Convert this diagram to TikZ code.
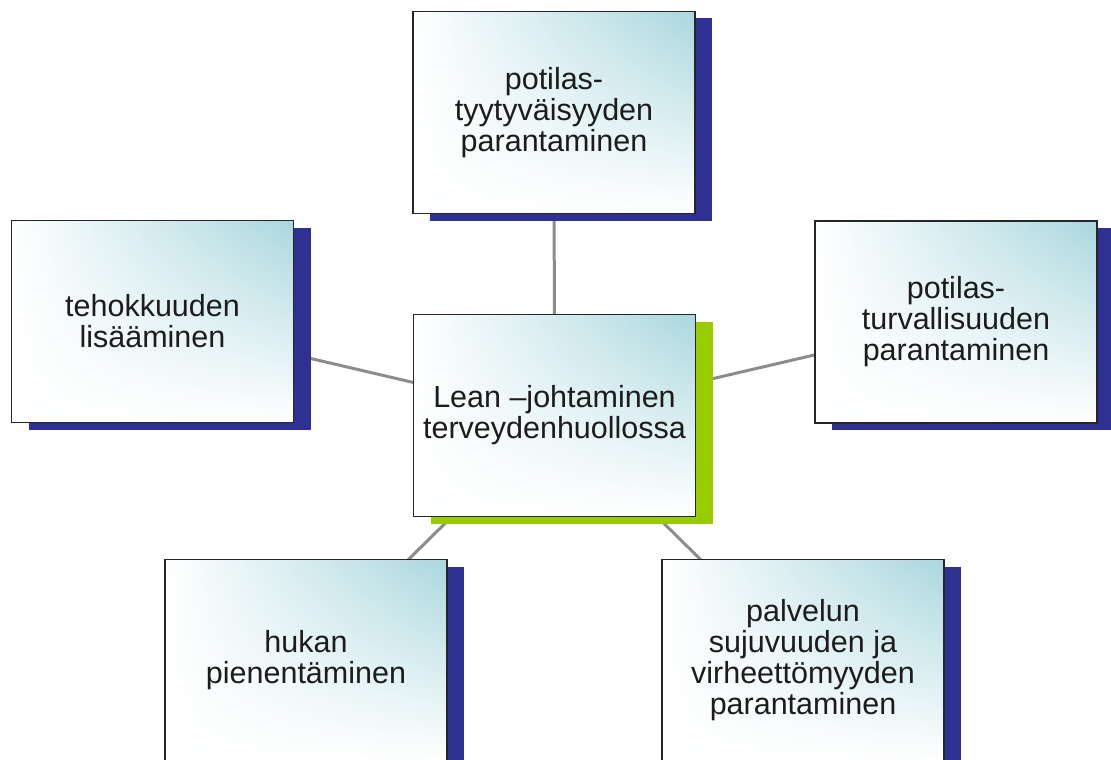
\documentclass[tikz,border=0pt]{standalone}
\usepackage{fontspec}
\setmainfont{Liberation Sans}
\usetikzlibrary{shadows,shadings}
\pgfdeclarelayer{background}
\pgfsetlayers{background,main}
\definecolor{navyshadow}{HTML}{2E3192}
\definecolor{limeshadow}{HTML}{99CC00}
\definecolor{iceteal}{HTML}{A9D7DE}
\definecolor{linkgray}{HTML}{8C8C8C}
\definecolor{inkblack}{HTML}{1C1C1C}
\tikzset{
  topicbox/.style={
    rectangle, draw=black!85, line width=1.6pt,
    minimum width=282pt, minimum height=202pt, inner sep=0pt,
    align=center, text=inkblack,
    font=\fontsize{30.5}{31}\selectfont,
    shade, upper left=white, upper right=iceteal,
    lower left=white, lower right=white,
    general shadow={fill=#1, shadow xshift=17pt, shadow yshift=-7pt}
  },
  topicbox/.default=navyshadow,
  link/.style={draw=linkgray, line width=3pt}
}
\begin{document}
\begin{tikzpicture}[x=1pt, y=-1pt]
  \useasboundingbox (0,0) rectangle (1111,760);
  \clip (0,0) rectangle (1111,760);
  % central theme and its five goals
  \node[topicbox=limeshadow] (lean) at (554.5,415.5) {Lean --johtaminen\\terveydenhuollossa};
  \node[topicbox] (tyyt) at (554,112.5) {potilas-\\tyytyväisyyden\\parantaminen};
  \node[topicbox] (teho) at (152.5,321.5) {tehokkuuden\\lisääminen};
  \node[topicbox] (turva) at (956,322) {potilas-\\turvallisuuden\\parantaminen};
  \node[topicbox] (hukka) at (306,660.5) {hukan\\pienentäminen};
  \node[topicbox] (palvelu) at (803,660.5) {palvelun\\sujuvuuden ja\\virheettömyyden\\parantaminen};
  % spokes run centre to centre, hidden behind the boxes
  \begin{pgfonlayer}{background}
    \draw[link] (lean.center) -- (tyyt.center);
    \draw[link] (lean.center) -- (teho.center);
    \draw[link] (lean.center) -- (turva.center);
    \draw[link] (lean.center) -- (hukka.center);
    \draw[link] (lean.center) -- (palvelu.center);
  \end{pgfonlayer}
\end{tikzpicture}
\end{document}
